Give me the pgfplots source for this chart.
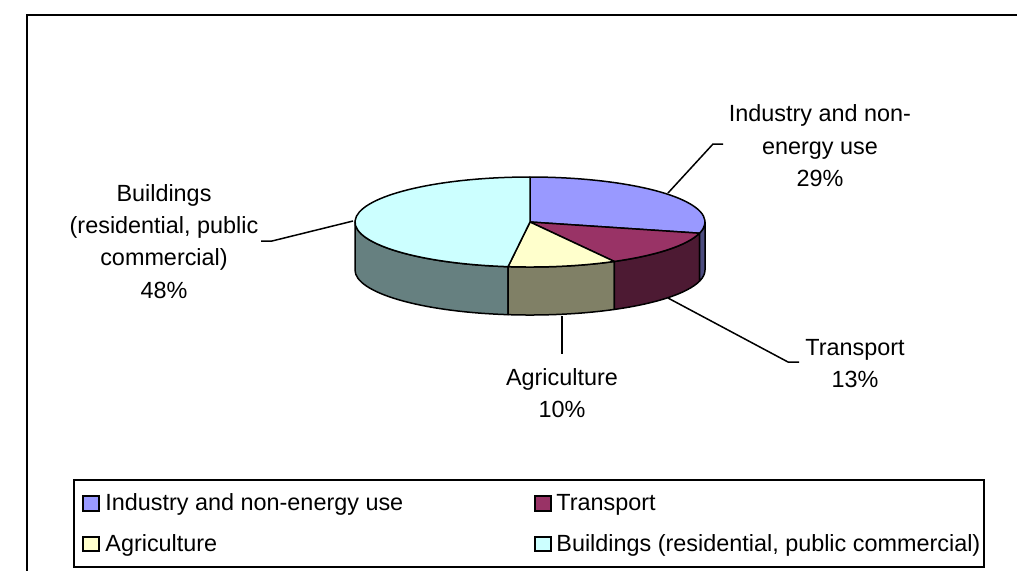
\documentclass[border=0pt]{standalone}
\usepackage{pgfplots}
\usepackage{pgfplotstable}
\pgfplotsset{compat=1.18}
\usepackage{fontspec}
\setmainfont{Liberation Sans}

\definecolor{cInd}{HTML}{9999FF}
\definecolor{cTra}{HTML}{993366}
\definecolor{cAgr}{HTML}{FFFFCC}
\definecolor{cBui}{HTML}{CCFFFF}
\definecolor{sInd}{HTML}{4D4D80}
\definecolor{sTra}{HTML}{4D1A33}
\definecolor{sAgr}{HTML}{808066}
\definecolor{sBui}{HTML}{668080}

\pgfplotstableread{
name share
Industry 29
Transport 13
Agriculture 10
Buildings 48
}\piedata

\newcommand\sideface[3]{%
  \filldraw[fill=#3,draw=black,line width=0.75pt,line join=round]
    (axis cs:530,222) ++(#1:87.5pt and 22.5pt)
    arc[start angle=#1,end angle=#2,x radius=87.5pt,y radius=22.5pt]
    -- ++(0,-24pt)
    arc[start angle=#2,end angle=#1,x radius=87.5pt,y radius=22.5pt] -- cycle;}
\newcommand\topface[3]{%
  \filldraw[fill=#3,draw=black,line width=0.75pt,line join=round]
    (axis cs:530,222) -- ++(#1:87.5pt and 22.5pt)
    arc[start angle=#1,end angle=#2,x radius=87.5pt,y radius=22.5pt] -- cycle;}

\begin{document}
\begin{tikzpicture}[lbl/.style={anchor=base,inner sep=0pt,font=\fontsize{11.7}{14}\selectfont}]
\pgfplotstablegetelem{0}{share}\of\piedata\let\sA\pgfplotsretval
\pgfplotstablegetelem{1}{share}\of\piedata\let\sB\pgfplotsretval
\pgfplotstablegetelem{2}{share}\of\piedata\let\sC\pgfplotsretval
\pgfplotstablegetelem{3}{share}\of\piedata\let\sD\pgfplotsretval
\pgfmathsetmacro\aO{90}
\pgfmathsetmacro\aA{\aO-3.6*\sA}
\pgfmathsetmacro\aB{\aA-3.6*\sB}
\pgfmathsetmacro\aC{\aB-3.6*\sC}
\pgfmathsetmacro\aD{\aC-3.6*\sD}
\begin{axis}[scale only axis,width=508.5pt,height=285pt,
  xmin=0,xmax=1017,ymin=0,ymax=570,y dir=reverse,hide axis,clip=false]
\coordinate (bbA) at (axis cs:0,570);
\coordinate (bbB) at (axis cs:1017,0);
% sides (front half)
\sideface{-180}{\aC}{sBui}
\sideface{\aC}{\aB}{sAgr}
\sideface{\aB}{\aA}{sTra}
\sideface{\aA}{0}{sInd}
% tops
\topface{\aO}{\aA}{cInd}
\topface{\aA}{\aB}{cTra}
\topface{\aB}{\aC}{cAgr}
\topface{\aC}{\aD}{cBui}
% leader lines
\draw[line width=0.75pt] (axis cs:668,193) -- (axis cs:713,144) -- (axis cs:723,144);
\draw[line width=0.75pt] (axis cs:668,298) -- (axis cs:788,362) -- (axis cs:799,362);
\draw[line width=0.75pt] (axis cs:562,316) -- (axis cs:562,354);
\draw[line width=0.75pt] (axis cs:353,221) -- (axis cs:272,241) -- (axis cs:261,241);
% labels
\node[lbl] at (axis cs:820,121) {Industry and non-};
\node[lbl] at (axis cs:820,154) {energy use};
\node[lbl] at (axis cs:820,186) {\sA\%};
\node[lbl] at (axis cs:855,355) {Transport};
\node[lbl] at (axis cs:855,387) {\sB\%};
\node[lbl] at (axis cs:562,385) {Agriculture};
\node[lbl] at (axis cs:562,417) {\sC\%};
\node[lbl] at (axis cs:164,201) {Buildings};
\node[lbl] at (axis cs:164,233) {(residential, public};
\node[lbl] at (axis cs:164,265) {commercial)};
\node[lbl] at (axis cs:164,298) {\sD\%};
% legend
\draw[line width=0.75pt] (axis cs:74,480) rectangle (axis cs:984,567);
\filldraw[fill=cInd,draw=black,line width=0.6pt] (axis cs:83,496) rectangle (axis cs:99,511);
\filldraw[fill=cTra,draw=black,line width=0.6pt] (axis cs:535,496) rectangle (axis cs:551,511);
\filldraw[fill=cAgr,draw=black,line width=0.6pt] (axis cs:83,537) rectangle (axis cs:99,551);
\filldraw[fill=cBui,draw=black,line width=0.6pt] (axis cs:535,537) rectangle (axis cs:551,551);
\node[lbl,anchor=base west] at (axis cs:105,510) {Industry and non-energy use};
\node[lbl,anchor=base west] at (axis cs:556,510) {Transport};
\node[lbl,anchor=base west] at (axis cs:105,551) {Agriculture};
\node[lbl,anchor=base west] at (axis cs:556,551) {Buildings (residential, public commercial)};
% outer frame
\draw[line width=1pt] (axis cs:1030,15) -- (axis cs:27,15) -- (axis cs:27,580);
\end{axis}
\pgfresetboundingbox
\useasboundingbox (bbA) rectangle (bbB);
\end{tikzpicture}
\end{document}
